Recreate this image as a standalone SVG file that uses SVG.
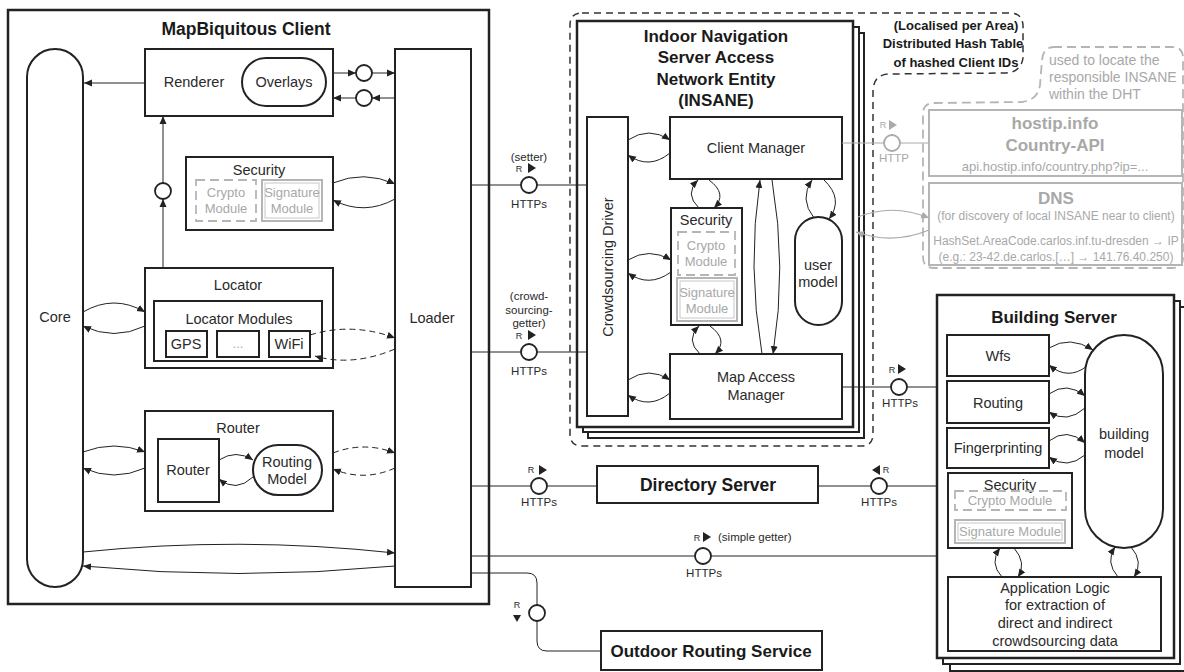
<svg xmlns="http://www.w3.org/2000/svg" width="1184" height="672" viewBox="0 0 1184 672">
<defs>
<style>
.b{fill:#fff;stroke:#222;stroke-width:2}
.bt{fill:#fff;stroke:#222;stroke-width:2.5}
.gb{fill:#fff;stroke:#b5b5b5;stroke-width:2}
.gd{fill:none;stroke:#b5b5b5;stroke-width:1.8;stroke-dasharray:9,5}
.t{font-family:"Liberation Sans",Arial,sans-serif;font-size:14.5px;fill:#2a2a2a;text-anchor:middle}
.tb{font-weight:bold;font-size:17px;fill:#1a1a1a}
.s{font-size:11.5px}
.m{font-size:13px}
.g{fill:#a8a8a8}
.c{fill:none;stroke:#222;stroke-width:1}
.cg{fill:none;stroke:#aaa;stroke-width:1.2}
.d{stroke-dasharray:6,4}
.ci{fill:#fff;stroke:#222;stroke-width:1.8}
.cig{fill:#fff;stroke:#aaa;stroke-width:1.8}
.tri{fill:#222}
</style>
<marker id="a" viewBox="0 0 8 8" refX="8" refY="4" markerWidth="8" markerHeight="8" markerUnits="userSpaceOnUse" orient="auto"><path d="M0,0.5 L8,4 L0,7.5 z" fill="#222"/></marker>
<marker id="ag" viewBox="0 0 8 8" refX="8" refY="4" markerWidth="8" markerHeight="8" markerUnits="userSpaceOnUse" orient="auto"><path d="M0,0.5 L8,4 L0,7.5 z" fill="#aaa"/></marker>
</defs>
<rect width="1184" height="672" fill="#fff"/>

<!-- MapBiquitous Client -->
<g id="client">
<rect class="bt" x="8" y="10" width="481" height="594"/>
<text class="t tb" x="246" y="35" style="font-size:17.5px">MapBiquitous Client</text>
</g>
<g id="core">
<rect class="b" x="27" y="49" width="56" height="538" rx="28"/>
<text class="t" x="55" y="322">Core</text>
</g>
<g id="renderer">
<rect class="b" x="145" y="49" width="188" height="67"/>
<text class="t" x="194" y="87">Renderer</text>
<rect class="b" x="242" y="58" width="84" height="48" rx="24"/>
<text class="t" x="284" y="87">Overlays</text>
</g>
<g id="client-security">
<rect class="b" x="186" y="157" width="147" height="73"/>
<text class="t" x="259" y="175">Security</text>
<rect class="gd" x="196" y="180" width="60" height="41"/>
<text class="t m g" x="226" y="197">Crypto</text>
<text class="t m g" x="226" y="213">Module</text>
<rect class="gb" x="262" y="180" width="60" height="41"/>
<rect fill="none" stroke="#c8c8c8" stroke-width="1" x="265" y="183" width="54" height="35"/>
<text class="t m g" x="292" y="197">Signature</text>
<text class="t m g" x="292" y="213">Module</text>
</g>
<g id="locator">
<rect class="b" x="145" y="268" width="188" height="100"/>
<text class="t" x="238" y="290">Locator</text>
<rect class="b" x="154" y="301" width="168" height="60"/>
<text class="t" x="239" y="324">Locator Modules</text>
<rect class="b" x="166" y="331" width="41" height="26"/>
<text class="t" x="186" y="349">GPS</text>
<rect class="b" x="217" y="331" width="42" height="26"/>
<text class="t m g" x="238" y="348">...</text>
<rect class="b" x="269" y="331" width="41" height="26"/>
<text class="t" x="289" y="349">WiFi</text>
</g>
<g id="router">
<rect class="b" x="145" y="411" width="188" height="100"/>
<text class="t" x="238" y="433">Router</text>
<rect class="b" x="158" y="439" width="61" height="63"/>
<text class="t" x="188" y="475">Router</text>
<rect class="b" x="253" y="445" width="69" height="50" rx="25"/>
<text class="t" x="287" y="467">Routing</text>
<text class="t" x="287" y="484">Model</text>
</g>
<g id="loader">
<rect class="b" x="395" y="49" width="76" height="538"/>
<text class="t" x="432" y="323">Loader</text>
</g>

<!-- INSANE -->
<g id="insane">
<path fill="none" stroke="#333" stroke-width="1.5" stroke-dasharray="7,5" d="M582,13 L1010,13 Q1022,13 1023,25 L1023,58 Q1021,72 1006,73 L888,74 Q874,75 873,90 L873,434 Q873,446 861,446 L582,446 Q570,446 570,434 L570,25 Q570,13 582,13 Z"/>
<rect class="b" x="588" y="33" width="276" height="405"/>
<rect class="b" x="583" y="27" width="276" height="405"/>
<rect class="bt" x="577" y="21" width="276" height="406"/>
<text class="t tb" x="716" y="42">Indoor Navigation</text>
<text class="t tb" x="716" y="63">Server Access</text>
<text class="t tb" x="716" y="85">Network Entity</text>
<text class="t tb" x="716" y="106">(INSANE)</text>
</g>
<g id="dht-label">
<text class="t tb" x="956" y="30" style="font-size:13px">(Localised per Area)</text>
<text class="t tb" x="953" y="48" style="font-size:13px">Distributed Hash Table</text>
<text class="t tb" x="956" y="67" style="font-size:13px">of hashed Client IDs</text>
</g>
<g id="crowdsourcing-driver">
<rect class="b" x="587" y="117" width="41" height="299"/>
<text class="t" transform="translate(613,267) rotate(-90)" x="0" y="0">Crowdsourcing Driver</text>
</g>
<g id="client-manager">
<rect class="b" x="670" y="117" width="172" height="62"/>
<text class="t" x="756" y="153">Client Manager</text>
</g>
<g id="insane-security">
<rect class="b" x="671" y="208" width="71" height="117"/>
<text class="t" x="706" y="225">Security</text>
<rect class="gd" x="678" y="232" width="57" height="43"/>
<text class="t m g" x="706" y="250">Crypto</text>
<text class="t m g" x="706" y="266">Module</text>
<rect class="gb" x="677" y="278" width="60" height="43"/>
<rect fill="none" stroke="#c8c8c8" stroke-width="1" x="680" y="281" width="54" height="37"/>
<text class="t m g" x="707" y="297">Signature</text>
<text class="t m g" x="707" y="313">Module</text>
</g>
<g id="user-model">
<rect class="b" x="795" y="217" width="47" height="108" rx="23.5"/>
<text class="t" x="818" y="270">user</text>
<text class="t" x="818" y="287">model</text>
</g>
<g id="map-access-manager">
<rect class="b" x="670" y="354" width="172" height="65"/>
<text class="t" x="756" y="382">Map Access</text>
<text class="t" x="756" y="400">Manager</text>
</g>

<!-- external gray services -->
<g id="lookup-note">
<path class="gd" d="M1053,47 L1172,47 Q1183,47 1183,58 L1183,258 Q1183,268 1172,268 L934,268 Q923,268 923,257 L923,114 Q923,103 934,103 L1022,102 Q1038,100 1040,85 L1042,60 Q1043,48 1053,47 Z"/>
<text class="t g" x="1049" y="65" style="text-anchor:start;font-size:14px">used to locate the</text>
<text class="t g" x="1049" y="82" style="text-anchor:start;font-size:14px">responsible INSANE</text>
<text class="t g" x="1049" y="99" style="text-anchor:start;font-size:14px">within the DHT</text>
</g>
<g id="hostip">
<rect class="gb" x="929" y="110" width="253" height="66"/>
<text class="t tb g" x="1055" y="129">hostip.info</text>
<text class="t tb g" x="1055" y="151">Country-API</text>
<text class="t m g" x="1055" y="171">api.hostip.info/country.php?ip=...</text>
</g>
<g id="dns">
<rect class="gb" x="929" y="183" width="253" height="82"/>
<text class="t tb g" x="1056" y="204">DNS</text>
<text class="t g" x="1056" y="220" style="font-size:12px">(for discovery of local INSANE near to client)</text>
<text class="t g" x="1056" y="245" style="font-size:12px">HashSet.AreaCode.carlos.inf.tu-dresden → IP</text>
<text class="t g" x="1056" y="261" style="font-size:12px">(e.g.: 23-42.de.carlos.[…] → 141.76.40.250)</text>
</g>

<!-- Building Server -->
<g id="building-server">
<rect class="b" x="950" y="307" width="240" height="364"/>
<rect class="b" x="943" y="301" width="237" height="363"/>
<rect class="bt" x="937" y="295" width="237" height="363"/>
<text class="t tb" x="1054" y="323">Building Server</text>
</g>
<g id="wfs">
<rect class="b" x="947" y="335" width="102" height="41"/>
<text class="t" x="998" y="361">Wfs</text>
</g>
<g id="routing">
<rect class="b" x="947" y="381" width="102" height="42"/>
<text class="t" x="998" y="408">Routing</text>
</g>
<g id="fingerprinting">
<rect class="b" x="947" y="428" width="102" height="40"/>
<text class="t" x="998" y="453">Fingerprinting</text>
</g>
<g id="building-model">
<rect class="b" x="1085" y="335" width="78" height="213" rx="39"/>
<text class="t" x="1124" y="439">building</text>
<text class="t" x="1124" y="458">model</text>
</g>
<g id="building-security">
<rect class="b" x="948" y="473" width="124" height="75"/>
<text class="t" x="1010" y="490">Security</text>
<rect class="gd" x="955" y="491" width="111" height="19"/>
<text class="t m g" x="1010" y="505">Crypto Module</text>
<rect class="gb" x="955" y="520" width="110" height="23"/>
<rect fill="none" stroke="#c8c8c8" stroke-width="1" x="958" y="523" width="104" height="17"/>
<text class="t m g" x="1010" y="536">Signature Module</text>
</g>
<g id="application-logic">
<rect class="b" x="948" y="577" width="213" height="74"/>
<text class="t" x="1055" y="593">Application Logic</text>
<text class="t" x="1055" y="610">for extraction of</text>
<text class="t" x="1055" y="628">direct and indirect</text>
<text class="t" x="1055" y="646">crowdsourcing data</text>
</g>

<g id="directory-server">
<rect class="b" x="597" y="466" width="221" height="37"/>
<text class="t tb" x="708" y="491" style="font-size:17.5px">Directory Server</text>
</g>
<g id="outdoor-routing">
<rect class="b" x="601" y="631" width="221" height="39"/>
<text class="t tb" x="711" y="657">Outdoor Routing Service</text>
</g>

<!-- Connectors -->
<g id="connectors">
<!-- client internal -->
<path class="c" marker-end="url(#a)" d="M145,83 L84,83"/>
<path class="c" marker-end="url(#a)" d="M333,73 L356,73"/>
<path class="c" marker-end="url(#a)" d="M372,73 L395,73"/>
<path class="c" marker-end="url(#a)" d="M395,98 L372,98"/>
<path class="c" marker-end="url(#a)" d="M356,98 L333,98"/>
<circle class="ci" cx="364" cy="73" r="8"/>
<circle class="ci" cx="364" cy="98" r="8"/>
<path class="c" marker-end="url(#a)" d="M163,268 L163,199"/>
<path class="c" marker-end="url(#a)" d="M163,183 L163,116"/>
<circle class="ci" cx="163" cy="191" r="8"/>
<path class="c" marker-end="url(#a)" d="M333,183 Q364,170 395,184"/>
<path class="c" marker-end="url(#a)" d="M395,199 Q364,216 333,200"/>
<path class="c" marker-end="url(#a)" d="M83,312 Q114,294 145,312"/>
<path class="c" marker-end="url(#a)" d="M145,326 Q114,341 83,326"/>
<path class="c d" marker-end="url(#a)" d="M310,335 Q352,322 395,338"/>
<path class="c d" marker-end="url(#a)" d="M395,349 Q352,367 315,356"/>
<path class="c" marker-end="url(#a)" d="M83,452 Q114,440 145,452"/>
<path class="c" marker-end="url(#a)" d="M145,468 Q114,482 83,468"/>
<path class="c d" marker-end="url(#a)" d="M333,453 Q364,441 395,453"/>
<path class="c d" marker-end="url(#a)" d="M395,468 Q364,482 333,469"/>
<path class="c" marker-end="url(#a)" d="M219,460 Q236,449 253,460"/>
<path class="c" marker-end="url(#a)" d="M253,477 Q236,493 219,479"/>
<path class="c" marker-end="url(#a)" d="M83,552 Q239,536 395,553"/>
<path class="c" marker-end="url(#a)" d="M395,566 Q239,581 83,566"/>

<!-- setter -->
<path class="c" d="M471,185 L521,185 M537,185 L587,185"/>
<circle class="ci" cx="529" cy="185" r="8"/>
<text class="t s" x="529" y="161">(setter)</text>
<text class="t" x="519" y="172" style="font-size:9px">R</text>
<polygon class="tri" points="528,163 536,168 528,173"/>
<text class="t s" x="529" y="208">HTTPs</text>

<!-- crowdsourcing getter -->
<path class="c" d="M471,352 L521,352 M537,352 L587,352"/>
<circle class="ci" cx="529" cy="352" r="8"/>
<text class="t s" x="529" y="300">(crowd-</text>
<text class="t s" x="529" y="314">sourcing-</text>
<text class="t s" x="529" y="327">getter)</text>
<text class="t" x="519" y="339" style="font-size:9px">R</text>
<polygon class="tri" points="528,330 536,335 528,340"/>
<text class="t s" x="529" y="375">HTTPs</text>

<!-- INSANE internal -->
<path class="c" marker-end="url(#a)" d="M628,140 Q649,126 670,140"/>
<path class="c" marker-end="url(#a)" d="M670,153 Q649,170 628,155"/>
<path class="c" marker-end="url(#a)" d="M628,260 Q649,247 671,260"/>
<path class="c" marker-end="url(#a)" d="M671,272 Q649,288 628,273"/>
<path class="c" marker-end="url(#a)" d="M628,380 Q649,366 670,380"/>
<path class="c" marker-end="url(#a)" d="M670,393 Q649,410 628,395"/>
<path class="c" marker-end="url(#a)" d="M699,208 Q684,194 698,180"/>
<path class="c" marker-end="url(#a)" d="M709,180 Q728,194 714,208"/>
<path class="c" marker-end="url(#a)" d="M700,354 Q685,340 699,326"/>
<path class="c" marker-end="url(#a)" d="M710,326 Q729,340 715,354"/>
<path class="c" marker-end="url(#a)" d="M762,354 Q747,267 760,180"/>
<path class="c" marker-end="url(#a)" d="M772,180 Q787,267 773,354"/>
<path class="c" marker-end="url(#a)" d="M814,218 Q799,199 812,180"/>
<path class="c" marker-end="url(#a)" d="M824,180 Q844,199 829,219"/>

<!-- hostip / DNS (gray) -->
<path class="cg" d="M842,143 L884,143 M900,143 L929,143"/>
<circle class="cig" cx="892" cy="143" r="8"/>
<text class="t g" x="883" y="128" style="font-size:9px">R</text>
<polygon fill="#aaa" points="889,120 897,125 889,130"/>
<text class="t s g" x="894" y="162">HTTP</text>
<path class="cg" marker-end="url(#ag)" d="M858,217 Q893,203 929,218"/>
<path class="cg" marker-end="url(#ag)" d="M929,230 Q893,245 856,232"/>

<!-- MAM to Building -->
<path class="c" d="M842,387 L891,387 M907,387 L937,387"/>
<circle class="ci" cx="899" cy="387" r="8"/>
<text class="t" x="892" y="373" style="font-size:9px">R</text>
<polygon class="tri" points="898,364 906,369 898,374"/>
<text class="t s" x="900" y="407">HTTPs</text>

<!-- Building internal -->
<path class="c" marker-end="url(#a)" d="M1049,348 Q1070,335 1093,350"/>
<path class="c" marker-end="url(#a)" d="M1087,366 Q1068,381 1049,365"/>
<path class="c" marker-end="url(#a)" d="M1049,394 Q1067,381 1085,396"/>
<path class="c" marker-end="url(#a)" d="M1085,408 Q1067,424 1049,412"/>
<path class="c" marker-end="url(#a)" d="M1049,441 Q1067,427 1085,443"/>
<path class="c" marker-end="url(#a)" d="M1085,455 Q1067,470 1049,457"/>
<path class="c" marker-end="url(#a)" d="M1002,577 Q989,563 1000,548"/>
<path class="c" marker-end="url(#a)" d="M1014,548 Q1027,563 1018,577"/>
<path class="c" marker-end="url(#a)" d="M1118,577 Q1105,562 1115,547"/>
<path class="c" marker-end="url(#a)" d="M1131,547 Q1144,562 1134,577"/>

<!-- Directory server -->
<path class="c" d="M471,486 L531,486 M547,486 L597,486"/>
<circle class="ci" cx="539" cy="486" r="8"/>
<text class="t" x="531" y="473" style="font-size:9px">R</text>
<polygon class="tri" points="539,465 547,470 539,475"/>
<text class="t s" x="539" y="506">HTTPs</text>
<path class="c" d="M818,486 L871,486 M887,486 L937,486"/>
<circle class="ci" cx="879" cy="486" r="8"/>
<polygon class="tri" points="880,465 872,470 880,475"/>
<text class="t" x="886" y="473" style="font-size:9px">R</text>
<text class="t s" x="879" y="506">HTTPs</text>

<!-- simple getter -->
<path class="c" d="M471,556 L695,556 M711,556 L937,556"/>
<circle class="ci" cx="703" cy="556" r="8"/>
<text class="t" x="697" y="541" style="font-size:9px">R</text>
<polygon class="tri" points="703,532 711,537 703,542"/>
<text class="t s" x="718" y="541" style="text-anchor:start">(simple getter)</text>
<text class="t s" x="704" y="577">HTTPs</text>

<!-- outdoor routing -->
<path class="c" d="M471,573 L527,573 Q537,573 537,583 L537,605 M537,621 L537,641 Q537,651 547,651 L601,651"/>
<circle class="ci" cx="537" cy="613" r="8"/>
<text class="t" x="517" y="608" style="font-size:9px">R</text>
<polygon class="tri" points="513,615 521,615 517,622"/>
</g>
</svg>
